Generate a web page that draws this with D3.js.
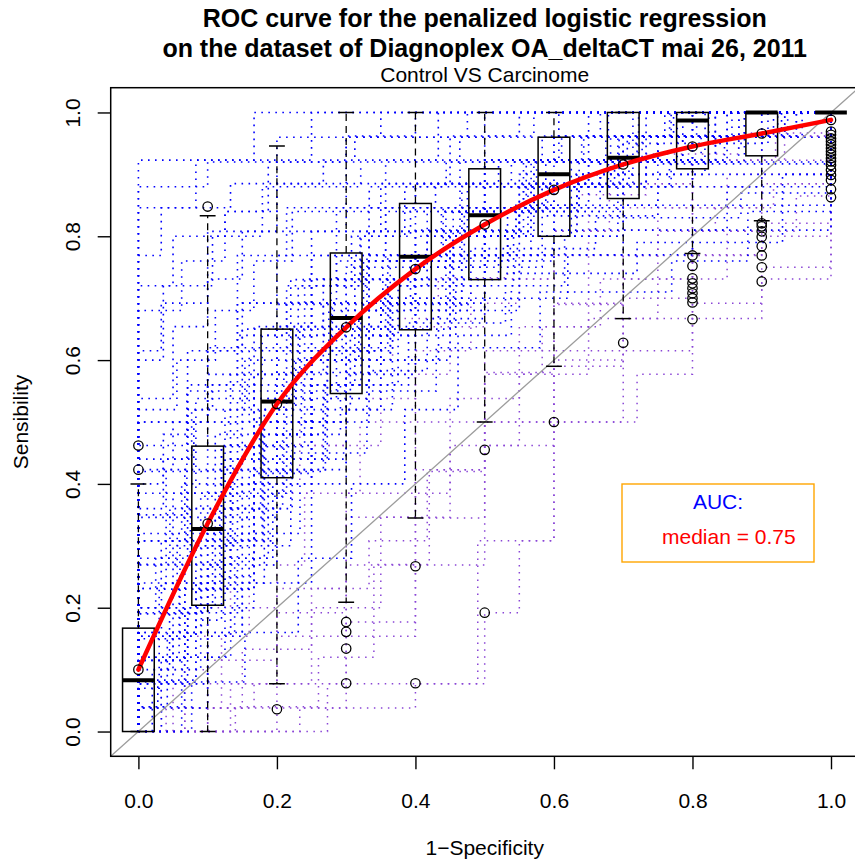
<!DOCTYPE html>
<html>
<head>
<meta charset="utf-8">
<script src="https://cdn.jsdelivr.net/npm/d3@7/dist/d3.min.js"></script>
<style>
  body { margin: 0; background: #fff; }
  svg { display: block; font-family: "Liberation Sans", Arial, Helvetica, sans-serif; }
</style>
</head>
<body>
<div id="chart"></div>
<script>
// ---- data ----
var titleLines = ["ROC curve for the penalized logistic regression",
                  "on the dataset of Diagnoplex OA_deltaCT mai 26, 2011"];
var subTitle = "Control VS Carcinome";
var xLabel = "1\u2212Specificity";
var yLabel = "Sensibility";
var xTicks = [0, 0.2, 0.4, 0.6, 0.8, 1.0];
var yTicks = [0, 0.2, 0.4, 0.6, 0.8, 1.0];

// bootstrap ROC step curves, [fpr, tpr] corners (step after)
var curvesBlue = [
  [[0,.923],[.167,1],[1,1]],
  [[0,.846],[.083,.923],[.25,1],[1,1]],
  [[0,.769],[.033,.846],[.133,.885],[.3,.962],[.4,1],[1,1]],
  [[0,.615],[.033,.692],[.1,.808],[.2,.885],[.267,.923],[.433,1],[1,1]],
  [[0,.462],[.071,.615],[.143,.769],[.214,.846],[.357,.923],[.5,.962],[.571,1],[1,1]],
  [[0,.423],[.05,.5],[.1,.615],[.15,.692],[.25,.808],[.35,.885],[.5,.923],[.65,1],[1,1]],
  [[0,.308],[.067,.423],[.133,.577],[.2,.654],[.267,.731],[.333,.808],[.467,.885],[.6,.962],[.733,1],[1,1]],
  [[0,.231],[.04,.346],[.12,.462],[.2,.615],[.28,.692],[.36,.769],[.44,.846],[.56,.923],[.72,.962],[.8,1],[1,1]],
  [[0,.154],[.083,.308],[.167,.5],[.25,.615],[.333,.731],[.417,.808],[.5,.885],[.667,.923],[.75,.962],[.833,1],[1,1]],
  [[0,.115],[.05,.192],[.1,.346],[.167,.462],[.25,.6],[.35,.7],[.45,.769],[.55,.846],[.65,.923],[.8,.962],[.9,1],[1,1]],
  [[0,.077],[.071,.192],[.143,.385],[.214,.538],[.286,.654],[.357,.731],[.5,.808],[.571,.885],[.714,.923],[.786,1],[1,1]],
  [[0,.038],[.1,.154],[.15,.346],[.2,.5],[.3,.577],[.4,.692],[.5,.769],[.6,.846],[.7,.923],[.85,.962],[.95,1],[1,1]],
  [[0,.083],[.083,.25],[.167,.417],[.25,.5],[.333,.583],[.417,.667],[.5,.75],[.583,.833],[.75,.917],[1,1]],
  [[0,.192],[.1,.269],[.133,.423],[.2,.5],[.3,.615],[.367,.692],[.467,.769],[.533,.846],[.633,.9],[.7,.962],[.767,1],[1,1]],
  [[0,.346],[.04,.423],[.08,.5],[.16,.615],[.24,.731],[.32,.808],[.4,.885],[.52,.923],[.64,.962],[.76,1],[1,1]],
  [[0,.269],[.071,.385],[.143,.538],[.214,.692],[.286,.769],[.357,.846],[.429,.885],[.5,.923],[.643,.962],[.714,1],[1,1]],
  [[0,.038],[.033,.115],[.067,.231],[.133,.308],[.2,.423],[.267,.538],[.333,.654],[.4,.75],[.5,.808],[.567,.885],[.667,.923],[.8,1],[1,1]],
  [[0,.538],[.05,.654],[.1,.731],[.15,.808],[.3,.885],[.45,.962],[.55,1],[1,1]],
  [[0,.385],[.083,.538],[.167,.654],[.25,.769],[.333,.846],[.5,.923],[.583,.962],[.667,1],[1,1]],
  [[0,.115],[.067,.269],[.133,.462],[.2,.577],[.267,.692],[.4,.769],[.467,.846],[.6,.885],[.733,.962],[.867,1],[1,1]],
  [[0,.2],[.05,.3],[.15,.4],[.2,.55],[.3,.65],[.4,.75],[.45,.8],[.55,.9],[.7,.95],[.85,1],[1,1]],
  [[0,.154],[.083,.231],[.167,.538],[.25,.692],[.333,.769],[.417,.846],[.583,.885],[.667,.923],[.833,.962],[.917,1],[1,1]],
  [[0,.077],[.1,.269],[.2,.423],[.3,.615],[.35,.692],[.45,.808],[.55,.885],[.65,.923],[.75,.962],[.85,1],[1,1]],
  [[0,.5],[.1,.577],[.143,.692],[.2,.769],[.286,.846],[.4,.885],[.5,.923],[.6,.962],[.8,1],[1,1]],
  [[0,.231],[.033,.308],[.1,.423],[.167,.577],[.233,.654],[.3,.731],[.4,.808],[.5,.846],[.567,.923],[.7,.962],[.867,1],[1,1]],
  [[0,.308],[.05,.385],[.15,.5],[.25,.615],[.35,.692],[.4,.769],[.5,.846],[.6,.885],[.7,.923],[.8,.962],[.9,1],[1,1]],
  [[0,.1],[.045,.2],[.091,.3],[.136,.4],[.182,.5],[.273,.6],[.364,.7],[.455,.8],[.545,.85],[.636,.9],[.818,.95],[.909,1],[1,1]],
  [[0,.2],[.111,.36],[.222,.56],[.333,.68],[.444,.8],[.556,.88],[.667,.92],[.778,1],[1,1]],
  [[0,0],[.0625,.12],[.125,.28],[.1875,.44],[.25,.56],[.3125,.64],[.375,.72],[.5,.8],[.5625,.88],[.6875,.92],[.8125,.96],[.875,1],[1,1]],
  [[0,.32],[.0625,.4],[.125,.52],[.25,.64],[.3125,.76],[.4375,.84],[.5,.88],[.625,.92],[.75,.96],[.9375,1],[1,1]],
  [[0,.16],[.0909,.24],[.1818,.44],[.2727,.6],[.3636,.72],[.4545,.8],[.5455,.84],[.6364,.92],[.7273,.96],[.8182,1],[1,1]],
  [[0,.6],[.036,.72],[.107,.8],[.179,.88],[.321,.92],[.464,.96],[.607,1],[1,1]],
  [[0,.44],[.0769,.52],[.1538,.6],[.2308,.72],[.3077,.8],[.3846,.88],[.5385,.92],[.6923,.96],[.7692,1],[1,1]],
  [[0,.04],[.028,.08],[.083,.16],[.139,.28],[.194,.4],[.25,.52],[.306,.64],[.361,.72],[.417,.8],[.5,.84],[.583,.88],[.694,.96],[.806,1],[1,1]],
  [[0,.24],[.056,.32],[.111,.48],[.167,.56],[.222,.64],[.278,.72],[.333,.76],[.444,.84],[.556,.92],[.722,.96],[.833,1],[1,1]],
  [[0,.08],[.05,.16],[.15,.24],[.25,.44],[.3,.52],[.35,.6],[.45,.68],[.55,.76],[.6,.84],[.7,.88],[.8,.92],[.9,.96],[.95,1],[1,1]],
  [[0,.36],[.036,.48],[.071,.56],[.143,.64],[.214,.72],[.286,.76],[.357,.84],[.5,.88],[.571,.92],[.714,.96],[.857,1],[1,1]],
  [[0,.12],[.0714,.2],[.1071,.32],[.1786,.48],[.25,.56],[.3214,.68],[.3929,.76],[.4643,.84],[.5714,.88],[.6786,.92],[.7857,.96],[.9286,1],[1,1]],
  [[0,0],[.0333,.04],[.0667,.12],[.1333,.2],[.1667,.32],[.2333,.4],[.3,.52],[.3667,.6],[.4333,.68],[.5,.76],[.5667,.84],[.6667,.88],[.7667,.92],[.8667,.96],[1,1]],
  [[0,.28],[.0455,.36],[.1364,.44],[.1818,.52],[.2273,.6],[.3182,.68],[.3636,.76],[.4545,.84],[.5909,.88],[.6818,.96],[.7727,1],[1,1]],
  [[0,.52],[.0556,.6],[.1111,.68],[.1667,.76],[.2222,.84],[.3333,.88],[.4444,.92],[.6111,.96],[.7222,1],[1,1]],
  [[0,.68],[.0625,.76],[.125,.84],[.1875,.92],[.3125,.96],[.5,1],[1,1]],
  [[0,.2],[.025,.28],[.075,.36],[.125,.44],[.175,.52],[.225,.6],[.275,.68],[.325,.76],[.4,.8],[.475,.88],[.575,.92],[.675,.96],[.875,1],[1,1]],
  [[0,.04],[.0417,.16],[.0833,.24],[.125,.36],[.2083,.48],[.2917,.56],[.375,.64],[.4583,.72],[.5417,.8],[.625,.88],[.7083,.92],[.875,.96],[.9583,1],[1,1]],
  [[0,0],[.0769,.08],[.1538,.16],[.2308,.28],[.3077,.4],[.3846,.52],[.4615,.64],[.5385,.72],[.6154,.8],[.6923,.88],[.7692,.92],[.8462,.96],[.9231,1],[1,1]],
  [[0,.4],[.0357,.44],[.0714,.52],[.1071,.56],[.1786,.64],[.25,.72],[.3214,.8],[.3929,.84],[.4643,.92],[.6071,.96],[.6786,1],[1,1]],
  [[0,.88],[.1,.92],[.2,.96],[.35,1],[1,1]],
  [[0,.72],[.05,.8],[.125,.84],[.2,.92],[.3,.96],[.475,1],[1,1]],
  [[0,.12],[.0588,.24],[.1176,.36],[.1765,.48],[.2353,.6],[.2941,.68],[.3529,.76],[.4706,.84],[.5882,.92],[.7059,.96],[.8235,1],[1,1]],
  [[0,.16],[.0333,.24],[.1,.32],[.1667,.4],[.2,.48],[.2667,.56],[.3333,.64],[.4,.68],[.4667,.76],[.5333,.8],[.6333,.88],[.7333,.92],[.8333,.96],[.9333,1],[1,1]],
  [[0,.35],[.07,.55],[.2,.69],[.33,.77],[.6,.81],[.85,.88],[1,1]],
  [[0,.27],[.12,.46],[.24,.62],[.36,.73],[.52,.77],[.7,.85],[1,1]],
  [[0,.15],[.06,.31],[.18,.5],[.3,.65],[.45,.7],[.62,.77],[.8,.81],[1,1]],
  [[0,.42],[.1,.62],[.22,.73],[.4,.81],[.55,.85],[.75,.88],[.9,.92],[1,1]],
  [[0,.5],[.15,.65],[.3,.75],[.5,.8],[.7,.9],[1,1]],
  [[0,.19],[.09,.38],[.21,.58],[.35,.69],[.48,.78],[.66,.83],[.87,.87],[1,1]],
  [[0,.07],[.03,.23],[.16,.42],[.27,.56],[.39,.66],[.53,.74],[.72,.79],[.93,.9],[1,1]],
  [[0,0],[.02,.1],[.09,.18],[.12,.3],[.22,.45],[.33,.55],[.43,.62],[.58,.71],[.77,.76],[.88,.84],[1,1]]
];
var curvesPurple = [
  [[0,0],[.033,.1],[.1,.231],[.167,.4],[.233,.5],[.3,.6],[.367,.667],[.433,.733],[.533,.8],[.633,.867],[.733,.933],[.867,.967],[1,1]],
  [[0,0],[.05,.077],[.1,.2],[.2,.385],[.25,.462],[.35,.577],[.45,.692],[.55,.769],[.65,.846],[.8,.923],[.9,.962],[1,1]],
  [[0,0],[.067,.154],[.133,.308],[.2,.462],[.3,.538],[.4,.654],[.5,.731],[.6,.808],[.7,.885],[.8,.923],[.933,1],[1,1]],
  [[0,0],[.04,.038],[.12,.154],[.16,.269],[.24,.385],[.32,.5],[.4,.615],[.48,.731],[.6,.808],[.68,.885],[.8,.923],[.92,.962],[1,1]],
  [[0,0],[.273,.077],[.49,.308],[.6,.5],[.72,.577],[.8,.692],[.9,.731],[1,1]],
  [[0,0],[.2,.038],[.3,.154],[.4,.269],[.5,.462],[.6,.59],[.7,.667],[.8,.769],[.9,.821],[1,1]],
  [[0,0],[.133,.077],[.2,.192],[.3,.346],[.4,.423],[.5,.5],[.6,.615],[.7,.731],[.8,.808],[.9,.885],[1,1]],
  [[0,0],[.067,.038],[.15,.133],[.25,.2],[.35,.346],[.45,.538],[.55,.654],[.65,.769],[.75,.846],[.85,.9],[1,1]],
  [[0,0],[.1,.038],[.2,.077],[.3,.177],[.4,.345],[.5,.5],[.6,.6],[.7,.7],[.8,.77],[.9,.8],[1,1]],
  [[0,.038],[.167,.077],[.25,.231],[.333,.308],[.417,.423],[.5,.577],[.583,.654],[.667,.731],[.75,.808],[.833,.846],[.917,.885],[1,1]],
  [[0,0],[.233,.038],[.4,.077],[.5,.192],[.55,.308],[.6,.5],[.7,.615],[.8,.667],[.9,.75],[1,1]],
  [[0,0],[.1,.077],[.2,.154],[.3,.269],[.4,.385],[.45,.462],[.55,.577],[.65,.667],[.75,.731],[.85,.808],[.95,.865],[1,1]],
  [[0,.038],[.1,.115],[.2,.231],[.3,.385],[.4,.5],[.5,.615],[.6,.692],[.7,.769],[.8,.846],[.9,.923],[1,1]],
  [[0,0],[.14,.04],[.26,.12],[.34,.27],[.42,.42],[.5,.58],[.6,.69],[.7,.81],[.8,.88],[.9,.96],[1,1]]
];

// boxplots of sensitivity at each 1-specificity
var boxX      = [0, 0.1, 0.2, 0.3, 0.4, 0.5, 0.6, 0.7, 0.8, 0.9, 1.0];
var boxLower  = [0, 0, .077, .209, .345, .5, .59, .667, .772, .825, 1];
var boxQ1     = [0, .204, .41, .546, .649, .73, .80, .861, .909, .93, 1];
var boxMedian = [.083, .327, .533, .668, .767, .834, .90, .927, .987, 1, 1];
var boxQ3     = [.167, .461, .65, .773, .853, .909, .96, 1, 1, 1, 1];
var boxUpper  = [.40, .833, .946, 1, 1, 1, 1, 1, 1, 1, 1];
var boxOutliers = [
  [.423, .462],
  [.848],
  [.036],
  [.177, .161, .134, .078],
  [.267, .078],
  [.455, .192],
  [.5],
  [.628],
  [.769, .752, .732, .724, .716, .708, .700, .693, .666],
  [.821, .816, .808, .799, .784, .769, .75, .727],
  [.969, .964, .958, .953, .948, .942, .937, .932, .926, .921, .915, .907, .899, .891, .876, .863]
];
// mean sensitivity (circles joined by the red curve)
var meanSens = [.1, .336, .529, .653, .747, .819, .875, .916, .945, .966, .988];

var legendTitle = "AUC:";
var legendText = "median = 0.75";

// ---- layout ----
var W = 855, H = 862;
var x = d3.scaleLinear().domain([-0.04, 1.04]).range([110.7, 858.7]);
var y = d3.scaleLinear().domain([-0.04, 1.04]).range([756.3, 87.7]);
var boxHalf = 0.0229;

var svg = d3.select('#chart').append('svg')
  .attr('width', W).attr('height', H);

svg.append('defs').append('clipPath').attr('id', 'plotclip')
  .append('rect')
  .attr('x', x(-0.04)).attr('y', y(1.04))
  .attr('width', x(1.04) - x(-0.04)).attr('height', y(-0.04) - y(1.04));

var plot = svg.append('g').attr('clip-path', 'url(#plotclip)');

// dotted step curves
var stepLine = d3.line()
  .x(function(d) { return x(d[0]); })
  .y(function(d) { return y(d[1]); })
  .curve(d3.curveStepAfter);

plot.append('g').attr('class', 'curves-purple')
  .selectAll('path').data(curvesPurple).enter().append('path')
  .attr('d', function(c) { return stepLine([[0, 0]].concat(c)); })
  .attr('fill', 'none').attr('stroke', '#8a46d6')
  .attr('stroke-width', 1.5).attr('stroke-dasharray', '1.5,5.5');

plot.append('g').attr('class', 'curves-blue')
  .selectAll('path').data(curvesBlue).enter().append('path')
  .attr('d', function(c) { return stepLine([[0, 0]].concat(c)); })
  .attr('fill', 'none').attr('stroke', '#0000ff')
  .attr('stroke-width', 1.6).attr('stroke-dasharray', '1.6,5.4');

// diagonal
plot.append('line')
  .attr('x1', x(-0.04)).attr('y1', y(-0.04))
  .attr('x2', x(1.04)).attr('y2', y(1.04))
  .attr('stroke', '#9c9c9c').attr('stroke-width', 1.3);

// boxplots
var bp = plot.append('g').attr('class', 'boxplots');
boxX.forEach(function(bx, i) {
  var g = bp.append('g');
  // whiskers
  g.append('line')
    .attr('x1', x(bx)).attr('x2', x(bx))
    .attr('y1', y(boxQ3[i])).attr('y2', y(boxUpper[i]))
    .attr('stroke', '#000').attr('stroke-width', 1.3).attr('stroke-dasharray', '7,5');
  g.append('line')
    .attr('x1', x(bx)).attr('x2', x(bx))
    .attr('y1', y(boxQ1[i])).attr('y2', y(boxLower[i]))
    .attr('stroke', '#000').attr('stroke-width', 1.3).attr('stroke-dasharray', '7,5');
  // staples
  [boxUpper[i], boxLower[i]].forEach(function(v) {
    g.append('line')
      .attr('x1', x(bx - boxHalf / 2)).attr('x2', x(bx + boxHalf / 2))
      .attr('y1', y(v)).attr('y2', y(v))
      .attr('stroke', '#000').attr('stroke-width', 1.5);
  });
  // box
  g.append('rect')
    .attr('x', x(bx - boxHalf)).attr('width', x(bx + boxHalf) - x(bx - boxHalf))
    .attr('y', y(boxQ3[i])).attr('height', y(boxQ1[i]) - y(boxQ3[i]))
    .attr('fill', 'none').attr('stroke', '#000').attr('stroke-width', 1.5);
  // median
  g.append('line')
    .attr('x1', x(bx - boxHalf)).attr('x2', x(bx + boxHalf))
    .attr('y1', y(boxMedian[i])).attr('y2', y(boxMedian[i]))
    .attr('stroke', '#000').attr('stroke-width', 4);
  // outliers
  g.selectAll('circle').data(boxOutliers[i]).enter().append('circle')
    .attr('cx', x(bx)).attr('cy', function(v) { return y(v); })
    .attr('r', 4.7).attr('fill', 'none').attr('stroke', '#000').attr('stroke-width', 1.3);
});

// red mean curve
var meanPts = boxX.map(function(bx, i) { return [bx, meanSens[i]]; });
plot.append('path')
  .attr('d', d3.line()
    .x(function(d) { return x(d[0]); })
    .y(function(d) { return y(d[1]); })
    .curve(d3.curveMonotoneX)(meanPts))
  .attr('fill', 'none').attr('stroke', '#ff0000').attr('stroke-width', 4.5)
  .attr('stroke-linecap', 'round');

plot.selectAll('circle.mean').data(meanPts).enter().append('circle')
  .attr('class', 'mean')
  .attr('cx', function(d) { return x(d[0]); })
  .attr('cy', function(d) { return y(d[1]); })
  .attr('r', 4.7).attr('fill', 'none').attr('stroke', '#000').attr('stroke-width', 1.3);

// legend
var lg = svg.append('g');
lg.append('rect').attr('x', 622).attr('y', 484).attr('width', 192).attr('height', 78)
  .attr('fill', '#fff').attr('stroke', '#ffa500').attr('stroke-width', 1.4);
lg.append('text').attr('x', 718).attr('y', 509).attr('text-anchor', 'middle')
  .attr('font-size', 21).attr('fill', '#0000ff').text(legendTitle);
lg.append('text').attr('x', 662).attr('y', 544)
  .attr('font-size', 21).attr('fill', '#ff0000').text(legendText);

// plot frame
svg.append('rect')
  .attr('x', x(-0.04)).attr('y', y(1.04))
  .attr('width', x(1.04) - x(-0.04)).attr('height', y(-0.04) - y(1.04))
  .attr('fill', 'none').attr('stroke', '#000').attr('stroke-width', 1.5);

// axes
var fmt = d3.format('.1f');
var xAxis = svg.append('g').attr('transform', 'translate(0,' + y(-0.04) + ')')
  .call(d3.axisBottom(x).tickValues(xTicks).tickFormat(fmt).tickSize(13).tickSizeOuter(0));
xAxis.select('.domain').remove();
xAxis.selectAll('line').attr('stroke-width', 1.4);
xAxis.selectAll('text').attr('y', 52).attr('dy', null)
  .attr('font-size', 21).attr('fill', '#000').attr('font-family', 'Liberation Sans, Arial, sans-serif');

var yAxis = svg.append('g').attr('transform', 'translate(' + x(-0.04) + ',0)')
  .call(d3.axisLeft(y).tickValues(yTicks).tickFormat(fmt).tickSize(13).tickSizeOuter(0));
yAxis.select('.domain').remove();
yAxis.selectAll('line').attr('stroke-width', 1.4);
yAxis.selectAll('text').attr('x', null).attr('dy', null)
  .attr('transform', 'translate(-31,0) rotate(-90)').attr('text-anchor', 'middle')
  .attr('font-size', 21).attr('fill', '#000').attr('font-family', 'Liberation Sans, Arial, sans-serif');

// titles and labels
var cx = (x(-0.04) + x(1.04)) / 2;
svg.selectAll('text.title').data(titleLines).enter().append('text')
  .attr('class', 'title')
  .attr('x', cx).attr('y', function(d, i) { return 27 + i * 30; })
  .attr('text-anchor', 'middle').attr('font-size', 25).attr('font-weight', 'bold')
  .text(function(d) { return d; });
svg.append('text').attr('x', cx).attr('y', 82).attr('text-anchor', 'middle')
  .attr('font-size', 21).text(subTitle);
svg.append('text').attr('x', cx).attr('y', 855).attr('text-anchor', 'middle')
  .attr('font-size', 21).text(xLabel);
svg.append('text').attr('transform', 'translate(28,' + (y(-0.04) + y(1.04)) / 2 + ') rotate(-90)')
  .attr('text-anchor', 'middle').attr('font-size', 21).text(yLabel);
</script>
</body>
</html>
